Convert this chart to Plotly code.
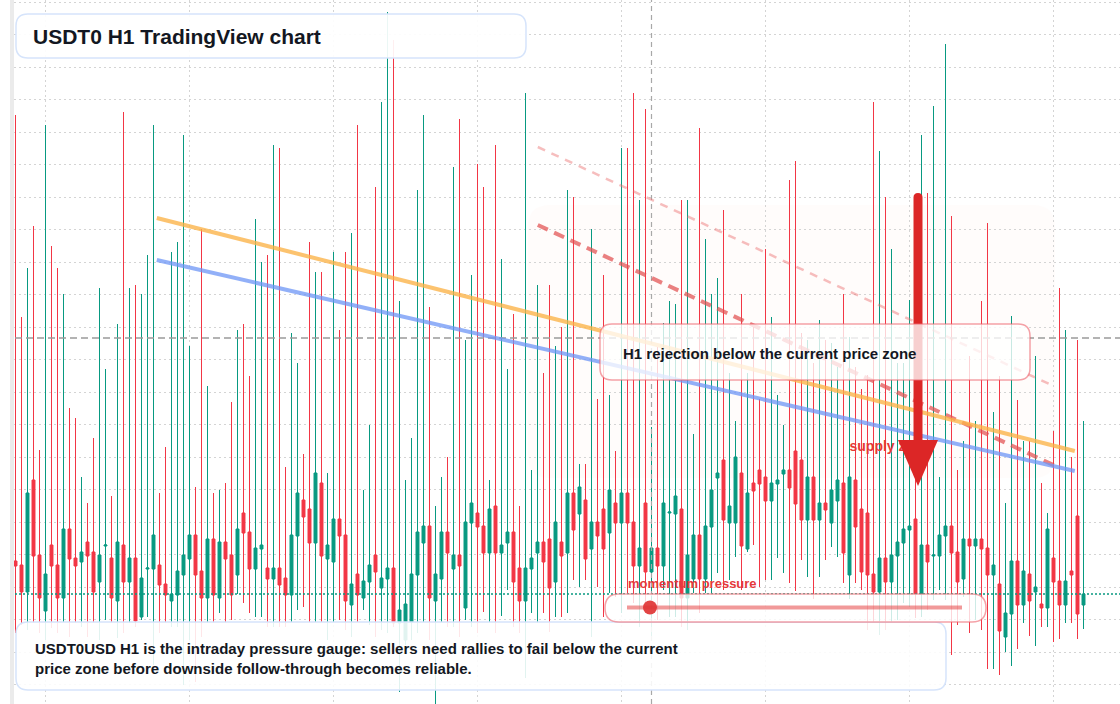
import plotly.graph_objects as go
import pandas as pd

# ---------------- data (H1 candles) ----------------
hours = [t.strftime("%d %b %H:%M") for t in pd.date_range("2025-01-06 19:00", periods=179, freq="h")]

open_ = [
    1.00033, 1.00029, 1.00002, 1.00114, 1.00039, 0.99983, 1.00049, 1.00029, 0.99996, 1.00065,
    1.00036, 1.00032, 1.00052, 1.00042, 1.00012, 1.00048, 1.00036, 0.99993, 1.00049, 1.00012,
    1.00036, 0.99977, 1.00025, 1.00025, 1.00029, 1.00010, 0.99993, 0.99999, 1.00019, 1.00035,
    1.00059, 1.00023, 0.99996, 1.00055, 0.99996, 1.00052, 1.00039, 1.00019, 1.00081, 1.00062,
    1.00025, 1.00045, 1.00026, 1.00015, 1.00026, 1.00016, 0.99999, 1.00058, 1.00094, 1.00085,
    1.00051, 1.00111, 1.00035, 1.00032, 1.00075, 1.00059, 0.99989, 1.00020, 0.99996, 1.00012,
    1.00039, 1.00006, 1.00015, 1.00026, 0.99971, 0.99954, 0.99972, 1.00019, 1.00051, 1.00068,
    0.99993, 1.00015, 1.00062, 1.00025, 1.00039, 0.99986, 1.00071, 1.00081, 1.00068, 1.00041,
    1.00088, 1.00041, 1.00051, 1.00062, 1.00026, 0.99993, 1.00025, 1.00041, 1.00052, 1.00055,
    1.00012, 1.00052, 1.00041, 1.00101, 1.00080, 1.00094, 1.00045, 1.00072, 1.00085, 1.00061,
    1.00091, 1.00071, 1.00101, 1.00072, 1.00028, 1.00091, 1.00022, 1.00046, 1.00028, 1.00081,
    1.00080, 1.00085, 0.99996, 1.00015, 1.00059, 1.00015, 1.00067, 1.00116, 1.00134, 1.00071,
    1.00071, 1.00121, 1.00045, 1.00111, 1.00124, 1.00117, 1.00093, 1.00110, 1.00120, 1.00124,
    1.00143, 1.00134, 1.00074, 1.00117, 1.00074, 1.00091, 1.00071, 1.00093, 1.00111, 1.00019,
    1.00114, 1.00085, 1.00081, 1.00020, 1.00002, 1.00036, 1.00012, 1.00038, 1.00051, 1.00064,
    1.00075, 1.00000, 1.00049, 1.00038, 1.00038, 1.00058, 1.00068, 1.00042, 1.00015, 1.00055,
    1.00048, 1.00055, 1.00046, 1.00019, 1.00010, 0.99957, 0.99980, 1.00033, 0.99989, 1.00020,
    1.00002, 0.99990, 0.99986, 1.00036, 1.00013, 0.99989, 1.00023, 1.00078, 0.99989,
]
close = [
    1.00028, 1.00002, 1.00101, 1.00038, 0.99996, 1.00020, 1.00028, 0.99996, 1.00065, 1.00035,
    1.00028, 1.00042, 1.00038, 1.00002, 1.00039, 1.00049, 0.99996, 1.00052, 1.00012, 1.00036,
    0.99973, 1.00016, 1.00026, 1.00059, 1.00009, 0.99999, 1.00000, 1.00023, 1.00039, 1.00059,
    1.00019, 0.99996, 1.00055, 0.99999, 1.00052, 1.00035, 0.99999, 1.00065, 1.00061, 1.00025,
    1.00046, 1.00049, 1.00015, 1.00026, 1.00009, 0.99999, 1.00059, 1.00101, 1.00077, 1.00051,
    1.00121, 1.00038, 1.00049, 1.00075, 1.00058, 0.99993, 1.00010, 0.99999, 1.00013, 1.00029,
    1.00022, 1.00016, 1.00026, 0.99971, 0.99984, 0.99990, 1.00020, 1.00062, 1.00068, 0.99996,
    1.00020, 1.00062, 1.00041, 1.00039, 1.00028, 1.00072, 1.00091, 1.00067, 1.00041, 1.00085,
    1.00041, 1.00049, 1.00062, 1.00012, 0.99993, 1.00026, 1.00036, 1.00052, 1.00032, 1.00006,
    1.00072, 1.00038, 1.00101, 1.00064, 1.00107, 1.00035, 1.00072, 1.00058, 1.00045, 1.00104,
    1.00071, 1.00101, 1.00071, 1.00028, 1.00046, 1.00022, 1.00046, 1.00028, 1.00091, 1.00082,
    1.00098, 0.99996, 1.00039, 1.00059, 1.00015, 1.00068, 1.00104, 1.00121, 1.00074, 1.00088,
    1.00137, 1.00048, 1.00101, 1.00103, 1.00110, 1.00093, 1.00111, 1.00114, 1.00124, 1.00106,
    1.00090, 1.00074, 1.00117, 1.00074, 1.00091, 1.00084, 1.00104, 1.00114, 1.00041, 1.00117,
    1.00067, 1.00022, 1.00019, 1.00002, 1.00036, 1.00012, 1.00039, 1.00052, 1.00065, 1.00068,
    1.00000, 1.00049, 1.00032, 1.00039, 1.00059, 1.00068, 1.00041, 1.00012, 1.00055, 1.00048,
    1.00055, 1.00045, 1.00019, 1.00029, 0.99963, 0.99981, 1.00033, 0.99989, 1.00023, 0.99993,
    1.00007, 0.99986, 1.00065, 1.00012, 0.99989, 1.00013, 1.00019, 0.99980, 1.00000,
]
high = [
    1.00479, 1.00277, 1.00326, 1.00368, 1.00144, 1.00469, 1.00348, 1.00326, 1.00300, 1.00186,
    1.00176, 1.00117, 1.00091, 1.00156, 1.00306, 1.00225, 1.00098, 1.00270, 1.00482, 1.00306,
    1.00309, 1.00300, 1.00339, 1.00469, 1.00101, 1.00147, 1.00342, 1.00352, 1.00459, 1.00248,
    1.00107, 1.00365, 1.00208, 1.00101, 1.00104, 1.00111, 1.00192, 1.00264, 1.00270, 1.00218,
    1.00375, 1.00332, 1.00339, 1.00449, 1.00446, 1.00127, 1.00261, 1.00231, 1.00140, 1.00352,
    1.00322, 1.00322, 1.00121, 1.00342, 1.00264, 1.00342, 1.00361, 1.00469, 1.00104, 1.00169,
    1.00407, 1.00492, 1.00582, 1.00554, 1.00293, 1.00114, 1.00156, 1.00404, 1.00479, 1.00287,
    1.00088, 1.00117, 1.00137, 1.00427, 1.00475, 1.00254, 1.00319, 1.00430, 1.00407, 1.00114,
    1.00449, 1.00335, 1.00225, 1.00280, 1.00088, 1.00501, 1.00124, 1.00309, 1.00221, 1.00309,
    1.00248, 1.00267, 1.00404, 1.00397, 1.00130, 1.00130, 1.00365, 1.00195, 1.00319, 1.00199,
    1.00143, 1.00446, 1.00446, 1.00501, 1.00394, 1.00485, 1.00167, 1.00247, 1.00271, 1.00293,
    1.00290, 1.00394, 1.00394, 1.00160, 1.00466, 1.00355, 1.00300, 1.00316, 1.00384, 1.00221,
    1.00173, 1.00300, 1.00221, 1.00267, 1.00195, 1.00345, 1.00277, 1.00199, 1.00169, 1.00414,
    1.00433, 1.00261, 1.00254, 1.00231, 1.00274, 1.00254, 1.00251, 1.00227, 1.00300, 1.00257,
    1.00227, 1.00205, 1.00219, 1.00492, 1.00443, 1.00397, 1.00345, 1.00231, 1.00231, 1.00294,
    1.00344, 1.00459, 1.00401, 1.00488, 1.00117, 1.00550, 1.00378, 1.00124, 1.00153, 1.00238,
    1.00173, 1.00293, 1.00371, 1.00182, 1.00218, 1.00091, 1.00278, 1.00194, 1.00153, 1.00153,
    1.00238, 1.00111, 1.00081, 1.00163, 1.00306, 1.00264, 1.00137, 1.00254, 1.00173,
]
low = [
    0.99961, 0.99969, 0.99964, 0.99971, 0.99961, 0.99954, 0.99966, 0.99961, 0.99972, 0.99957,
    0.99971, 0.99967, 0.99957, 0.99971, 0.99954, 0.99974, 0.99971, 0.99956, 0.99961, 0.99971,
    0.99967, 0.99974, 0.99977, 0.99929, 0.99961, 0.99971, 0.99967, 0.99967, 0.99909, 0.99954,
    0.99912, 0.99957, 0.99971, 0.99971, 0.99981, 0.99971, 0.99974, 1.00000, 0.99991, 0.99981,
    0.99977, 0.99977, 0.99967, 0.99967, 0.99967, 0.99967, 0.99972, 0.99984, 0.99987, 0.99972,
    0.99972, 0.99972, 0.99954, 0.99972, 0.99974, 0.99964, 0.99957, 0.99972, 0.99984, 0.99969,
    0.99957, 0.99964, 0.99961, 0.99967, 0.99902, 0.99949, 0.99954, 0.99961, 0.99972, 0.99954,
    0.99884, 0.99972, 0.99967, 0.99967, 0.99957, 0.99974, 0.99967, 0.99961, 0.99982, 0.99972,
    0.99961, 0.99978, 1.00004, 0.99967, 0.99961, 0.99916, 0.99981, 0.99971, 0.99981, 0.99962,
    0.99977, 0.99977, 0.99981, 1.00014, 1.00007, 1.00014, 0.99957, 1.00007, 0.99977, 1.00001,
    0.99997, 0.99981, 1.00001, 0.99991, 0.99967, 0.99991, 0.99954, 0.99974, 1.00004, 0.99977,
    0.99977, 0.99967, 0.99964, 1.00001, 0.99981, 1.00001, 1.00001, 1.00021, 1.00004, 1.00014,
    1.00037, 1.00004, 1.00042, 1.00049, 1.00007, 1.00014, 1.00014, 1.00036, 1.00021, 1.00011,
    1.00003, 1.00034, 1.00017, 0.99995, 1.00017, 1.00034, 1.00047, 1.00037, 1.00011, 0.99995,
    1.00011, 1.00004, 0.99964, 0.99972, 0.99959, 0.99964, 0.99972, 0.99974, 0.99991, 0.99987,
    0.99976, 0.99977, 0.99984, 0.99994, 1.00004, 0.99994, 0.99939, 0.99969, 0.99997, 0.99961,
    0.99974, 0.99964, 0.99925, 0.99925, 0.99919, 0.99942, 0.99928, 0.99945, 0.99971, 0.99958,
    0.99948, 0.99967, 0.99967, 0.99952, 0.99955, 0.99971, 0.99971, 0.99955, 0.99965,
]
bar_index = list(range(len(open_)))

# chart drawings (bar index, price)
upper_trend = [(23.55, 1.00376), (176.55, 1.00143)]
lower_trend = [(23.55, 1.00334), (176.55, 1.00123)]
channel_main = [(87.05, 1.00369), (173.7, 1.00127)]
channel_outer = [(87.05, 1.00447), (173.0, 1.00208)]
zone_level = 1.00256
last_price = 1.00000
crosshair_bar = 106.0

UP, DOWN = "#089981", "#f23645"
FONT = "Liberation Sans, Arial, Helvetica, sans-serif"
INK = "#131722"

W, H, ML = 1120, 704, 14
FIRST_BAR_PX = 15.5   # pixel centre of bar 0
BAR_PX = 6


def px(x):
    return (x - ML) / (W - ML)


def py(y):
    return 1 - y / H


def rrect(x0, y0, x1, y1, r):
    X = lambda v: f"{px(v):.6f}"
    Y = lambda v: f"{py(v):.6f}"
    return (f"M{X(x0 + r)},{Y(y0)} L{X(x1 - r)},{Y(y0)} Q{X(x1)},{Y(y0)} {X(x1)},{Y(y0 + r)} "
            f"L{X(x1)},{Y(y1 - r)} Q{X(x1)},{Y(y1)} {X(x1 - r)},{Y(y1)} "
            f"L{X(x0 + r)},{Y(y1)} Q{X(x0)},{Y(y1)} {X(x0)},{Y(y1 - r)} "
            f"L{X(x0)},{Y(y0 + r)} Q{X(x0)},{Y(y0)} {X(x0 + r)},{Y(y0)} Z")


def poly(points):
    return "M" + " L".join(f"{px(a):.6f},{py(b):.6f}" for a, b in points) + " Z"


fig = go.Figure()
fig.add_trace(go.Candlestick(
    x=bar_index, open=open_, high=high, low=low, close=close, hovertext=hours,
    increasing=dict(line=dict(color=UP, width=1), fillcolor=UP),
    decreasing=dict(line=dict(color=DOWN, width=1), fillcolor=DOWN),
    showlegend=False,
))
fig.add_trace(go.Scatter(
    x=[139.0], y=[1.00147], mode="text", text=["<b>supply zone</b>"],
    textposition="middle right", textfont=dict(family=FONT, size=14, color="#e53935"),
    showlegend=False, hoverinfo="skip",
))

shapes = []
shapes.append(dict(type="path", path=rrect(528, 205, 1055, 478, 22), xref="paper", yref="paper",
                   fillcolor="rgba(242,150,100,0.028)", line=dict(width=0), layer="below"))
shapes.append(dict(type="rect", xref="paper", yref="paper", x0=px(10), x1=px(14), y0=0, y1=1,
                   fillcolor="#ebebeb", line=dict(width=0), layer="above"))
shapes.append(dict(type="line", xref="paper", yref="y", x0=px(15), x1=1, y0=last_price, y1=last_price,
                   line=dict(color=UP, width=1.5, dash="2px,2px"), layer="above"))
shapes.append(dict(type="line", xref="paper", yref="y", x0=px(15), x1=1, y0=zone_level, y1=zone_level,
                   line=dict(color="#9a9a9a", width=1.3, dash="7px,4px"), layer="above"))
shapes.append(dict(type="line", xref="x", yref="paper", x0=crosshair_bar, x1=crosshair_bar, y0=0, y1=1,
                   line=dict(color="#a8a8a8", width=1.2, dash="5px,4px"), layer="above"))
for pts, col, w, dash in [
    (channel_outer, "rgba(236,110,110,0.45)", 2.5, "8px,7px"),
    (channel_main, "rgba(226,80,80,0.72)", 4, "11px,7px"),
    (upper_trend, "rgba(251,178,70,0.78)", 4, "solid"),
    (lower_trend, "rgba(110,150,245,0.75)", 4, "solid"),
]:
    shapes.append(dict(type="line", xref="x", yref="y", x0=pts[0][0], y0=pts[0][1], x1=pts[1][0], y1=pts[1][1],
                       line=dict(color=col, width=w, dash=dash), layer="above"))
# down arrow
shapes.append(dict(type="path", xref="paper", yref="paper", layer="above",
                   path=(f"M{px(913.5):.6f},{py(445):.6f} L{px(913.5):.6f},{py(197.5):.6f} "
                         f"Q{px(913.5):.6f},{py(193):.6f} {px(918):.6f},{py(193):.6f} "
                         f"Q{px(922.5):.6f},{py(193):.6f} {px(922.5):.6f},{py(197.5):.6f} "
                         f"L{px(922.5):.6f},{py(445):.6f} Z"),
                   fillcolor="#dc2626", line=dict(width=0)))
shapes.append(dict(type="path", xref="paper", yref="paper", layer="above",
                   path=poly([(898, 440), (938, 440), (918, 486)]),
                   fillcolor="#dc2626", line=dict(width=0)))
# boxes
shapes.append(dict(type="path", xref="paper", yref="paper", layer="above", path=rrect(16, 14, 526, 58, 12),
                   fillcolor="rgba(255,255,255,0.92)", line=dict(color="#d6e4fb", width=1.5)))
shapes.append(dict(type="path", xref="paper", yref="paper", layer="above", path=rrect(600, 324, 1030, 380, 12),
                   fillcolor="rgba(255,255,255,0.78)", line=dict(color="rgba(236,100,110,0.6)", width=1.5)))
shapes.append(dict(type="path", xref="paper", yref="paper", layer="above", path=rrect(16, 622, 946, 690, 12),
                   fillcolor="rgba(255,255,255,0.88)", line=dict(color="#d6e4fb", width=1.5)))
shapes.append(dict(type="path", xref="paper", yref="paper", layer="above", path=rrect(605, 594, 986, 622, 14),
                   fillcolor="rgba(255,255,255,0.8)", line=dict(color="rgba(236,100,110,0.6)", width=1.5)))
shapes.append(dict(type="line", xref="paper", yref="paper", layer="above", x0=px(627), x1=px(962),
                   y0=py(607.5), y1=py(607.5), line=dict(color="rgba(230,70,70,0.55)", width=4)))
shapes.append(dict(type="circle", xref="paper", yref="paper", layer="above", x0=px(643), x1=px(657),
                   y0=py(600.5), y1=py(614.5), fillcolor="rgba(224,52,52,0.92)", line=dict(width=0)))

annotations = [
    dict(x=px(31), y=py(36), xref="paper", yref="paper", xanchor="left", yanchor="middle", showarrow=False,
         text="<b>USDT0 H1 TradingView chart</b>", font=dict(family=FONT, size=21, color=INK)),
    dict(x=px(621), y=py(353), xref="paper", yref="paper", xanchor="left", yanchor="middle", showarrow=False,
         text="<b>H1 rejection below the current price zone</b>", font=dict(family=FONT, size=15, color=INK)),
    dict(x=px(33), y=py(658), xref="paper", yref="paper", xanchor="left", yanchor="middle", showarrow=False,
         align="left",
         text=("<b>USDT0USD H1 is the intraday pressure gauge: sellers need rallies to fail below the current"
               "<br>price zone before downside follow-through becomes reliable.</b>"),
         font=dict(family=FONT, size=15, color=INK)),
    dict(x=px(626), y=py(583), xref="paper", yref="paper", xanchor="left", yanchor="middle", showarrow=False,
         text="<b>momentum pressure</b>", font=dict(family=FONT, size=13, color="#e5383b")),
]

x_min = -(FIRST_BAR_PX - ML) / BAR_PX
x_max = x_min + (W - ML) / BAR_PX

fig.update_layout(
    width=W, height=H, autosize=False,
    margin=dict(l=ML, r=0, t=0, b=0),
    paper_bgcolor="white", plot_bgcolor="white",
    shapes=shapes, annotations=annotations,
    showlegend=False,
    xaxis=dict(range=[x_min, x_max], showticklabels=False, zeroline=False, showline=False,
               showgrid=True, gridcolor="#d4d4d4", gridwidth=1, griddash="2px,3px",
               tick0=5, dtick=24, ticks="", rangeslider=dict(visible=False), fixedrange=True),
    yaxis=dict(range=[1 + (594 - H) / 1e5, 1 + 594 / 1e5], showticklabels=False, zeroline=False, showline=False,
               showgrid=True, gridcolor="#d4d4d4", gridwidth=1, griddash="2px,3px",
               tick0=1.005917, dtick=0.000325, ticks="", fixedrange=True),
)

fig.write_html("out.html", config={"displayModeBar": False})
